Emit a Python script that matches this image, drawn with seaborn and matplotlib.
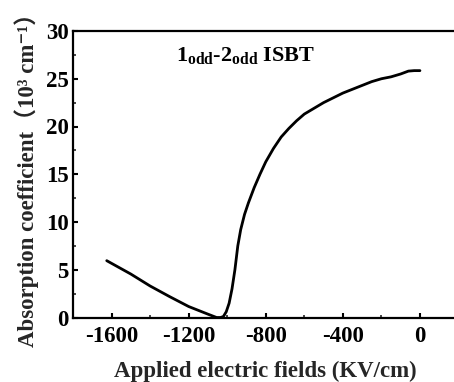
import matplotlib
matplotlib.use("Agg")
import matplotlib.pyplot as plt
import seaborn as sns
import pandas as pd
from matplotlib.ticker import MultipleLocator

field = [-1625, -1500, -1400, -1300, -1200, -1100, -1055, -1035, -1020, -1005,
         -990, -975, -960, -945, -930, -910, -890, -860, -830, -800,
         -760, -720, -680, -640, -600, -550, -500, -450, -400, -350,
         -300, -250, -200, -150, -100, -60, -30, 0]
absorption = [5.95, 4.55, 3.3, 2.2, 1.15, 0.35, 0.0, 0.0, 0.1, 0.6,
              1.5, 3.0, 5.0, 7.5, 9.2, 10.8, 12.0, 13.6, 15.0, 16.3,
              17.7, 18.9, 19.8, 20.6, 21.3, 21.9, 22.5, 23.0, 23.5, 23.9,
              24.3, 24.7, 25.0, 25.2, 25.5, 25.8, 25.85, 25.85]
x_ticks = [-1600, -1200, -800, -400, 0]
y_ticks = [0, 5, 10, 15, 20, 25, 30]

sns.set_theme(style="ticks")
plt.rcParams['font.family'] = ['Liberation Serif', 'Noto Sans CJK SC', 'DejaVu Sans']
plt.rcParams['font.weight'] = 'bold'
plt.rcParams['mathtext.fontset'] = 'custom'
plt.rcParams['mathtext.rm'] = 'Liberation Serif:bold'
plt.rcParams['mathtext.bf'] = 'Liberation Serif:bold'
plt.rcParams['mathtext.it'] = 'Liberation Serif:bold'

df = pd.DataFrame({"field": field, "absorption": absorption})

fig = plt.figure(figsize=(4.54, 3.82), dpi=100)
ax = fig.add_axes([73/454, 1 - 317.5/382, 385.5/454, (317.5-31)/382])
sns.lineplot(data=df, x="field", y="absorption", ax=ax, color="black",
             linewidth=2.0, sort=False)

ax.set_xlim(-1800, 200)
ax.set_ylim(0, 30)
ax.set_xticks(x_ticks)
ax.set_xticklabels([str(v) for v in x_ticks])
ax.set_yticks(y_ticks)
ax.set_yticklabels([str(v) for v in y_ticks])
ax.xaxis.set_minor_locator(MultipleLocator(200))
ax.yaxis.set_minor_locator(MultipleLocator(2.5))
ax.tick_params(axis='both', which='major', direction='in', length=3.5, width=1.5,
               labelsize=16.5, colors='black')
ax.tick_params(axis='x', which='major', pad=6)
ax.tick_params(axis='y', which='major', pad=3)
ax.tick_params(axis='both', which='minor', direction='in', length=2, width=1.2)
for lab in ax.get_xticklabels() + ax.get_yticklabels():
    lab.set_fontweight('bold')
for s in ['left', 'bottom', 'top', 'right']:
    ax.spines[s].set_linewidth(1.6)
    ax.spines[s].set_color('black')

ax.set_xlabel("Applied electric fields (KV/cm)", fontsize=16.5, fontweight='bold', labelpad=10)
ax.set_ylabel("Absorption coefficient\uff0810³ cm⁻¹\uff09", fontsize=16.5, fontweight='bold', labelpad=5)

ax.text(-903, 27.4, r"1$_{\mathbf{odd}}$-2$_{\mathbf{odd}}$ ISBT", fontsize=16,
        fontweight='bold', ha='center', va='center', color='black')

fig.savefig("out.png", dpi=100)
